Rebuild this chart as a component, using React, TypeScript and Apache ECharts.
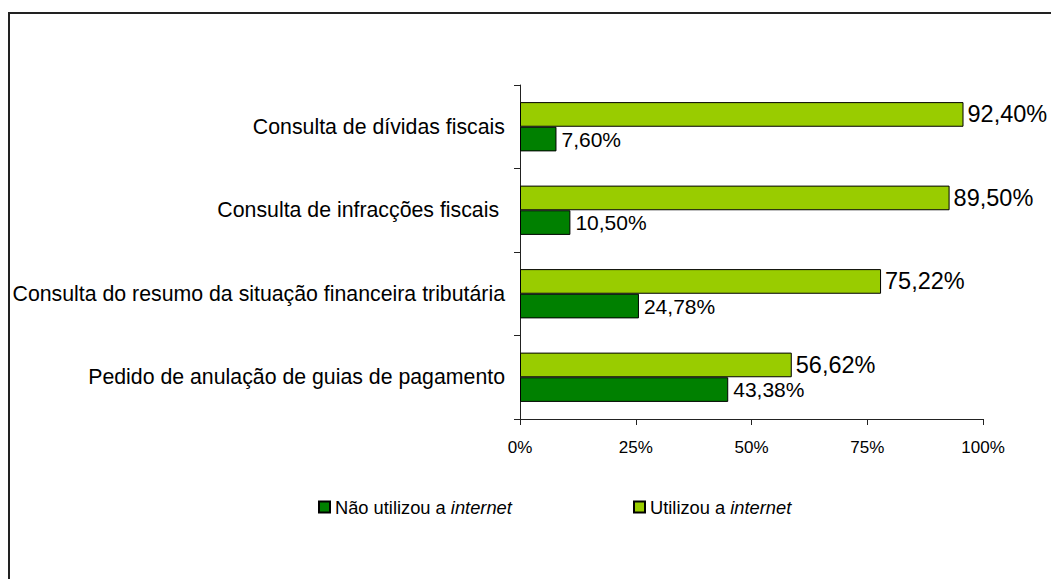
import React, { useEffect, useRef } from "react";
import * as echarts from "echarts";

const categories = [
  "Pedido de anulação de guias de pagamento",
  "Consulta do resumo da situação financeira tributária",
  "Consulta de infracções fiscais ",
  "Consulta de dívidas fiscais",
];
const naoUtilizou = [43.38, 24.78, 10.5, 7.6];
const utilizou = [56.62, 75.22, 89.5, 92.4];
const seriesNames = ["Não utilizou a internet", "Utilizou a internet"];
const tickValues = [0, 25, 50, 75, 100];

const FONT = "'Liberation Sans', Arial, sans-serif";
const fmt = (v: number) => v.toFixed(2).replace(".", ",") + "%";

export default function App() {
  const ref = useRef<HTMLDivElement>(null);
  useEffect(() => {
    document.body.style.margin = "0";
    document.body.style.overflow = "hidden";
    if (!ref.current) return;
    const chart = echarts.init(ref.current, undefined, { renderer: "svg" });
    const legendText = {
      fontSize: 18.3,
      fontFamily: FONT,
      color: "#000",
      lineHeight: 20,
      rich: {
        n: { fontSize: 18.3, fontFamily: FONT, color: "#000", lineHeight: 20 },
        i: { fontSize: 18.3, fontFamily: FONT, color: "#000", fontStyle: "italic", lineHeight: 20 },
      },
    };
    const legendFormatter = (name: string) => {
      const idx = name.lastIndexOf("internet");
      return "{n|" + name.slice(0, idx) + "}{i|internet}";
    };
    chart.setOption({
      animation: false,
      backgroundColor: "#fff",
      graphic: [
        {
          type: "rect",
          shape: { x: 9, y: 13, width: 1100, height: 700 },
          style: { fill: "none", stroke: "#222", lineWidth: 2 },
          silent: true,
        },
      ],
      legend: [
        {
          data: [seriesNames[0]],
          left: 318,
          top: 497,
          padding: 0,
          itemWidth: 11,
          itemHeight: 11,
          itemGap: 0,
          icon: "rect",
          textStyle: legendText,
          formatter: legendFormatter,
        },
        {
          data: [seriesNames[1]],
          left: 633,
          top: 497,
          padding: 0,
          itemWidth: 11,
          itemHeight: 11,
          itemGap: 0,
          icon: "rect",
          textStyle: legendText,
          formatter: legendFormatter,
        },
      ],
      grid: { left: 520, right: 68, top: 85, bottom: 160, containLabel: false },
      xAxis: [
        {
          type: "value",
          min: tickValues[0],
          max: tickValues[tickValues.length - 1],
          interval: 25,
          axisLine: { show: true, lineStyle: { color: "#222", width: 1 } },
          axisTick: { show: true, length: 6, lineStyle: { color: "#222" } },
          splitLine: { show: false },
          axisLabel: {
            formatter: "{value}%",
            fontSize: 17,
            fontFamily: FONT,
            color: "#000",
            margin: 20,
          },
        },
        {
          type: "value",
          min: 0,
          max: 96.46,
          show: false,
        },
      ],
      yAxis: {
        type: "category",
        data: categories,
        axisLine: { show: true, lineStyle: { color: "#222", width: 1 } },
        axisTick: { show: true, length: 6, alignWithLabel: false, lineStyle: { color: "#222" } },
        axisLabel: {
          fontSize: 21.3,
          fontFamily: FONT,
          color: "#000",
          margin: 15,
        },
      },
      series: [
        {
          name: seriesNames[1],
          type: "bar",
          xAxisIndex: 1,
          data: utilizou,
          barGap: "0%",
          barCategoryGap: "41%",
          itemStyle: { color: "#99CC00", borderColor: "#000", borderWidth: 1 },
          label: {
            show: true,
            position: "right",
            distance: 4,
            fontSize: 23.5,
            fontFamily: FONT,
            color: "#000",
            formatter: (p: any) => fmt(p.value),
          },
        },
        {
          name: seriesNames[0],
          type: "bar",
          xAxisIndex: 1,
          data: naoUtilizou,
          barGap: "0%",
          barCategoryGap: "41%",
          itemStyle: { color: "#008000", borderColor: "#000", borderWidth: 1 },
          label: {
            show: true,
            position: "right",
            distance: 5,
            fontSize: 21,
            fontFamily: FONT,
            color: "#000",
            formatter: (p: any) => fmt(p.value),
          },
        },
      ],
    });
    return () => chart.dispose();
  }, []);
  return <div ref={ref} style={{ width: 1051, height: 579 }} />;
}
